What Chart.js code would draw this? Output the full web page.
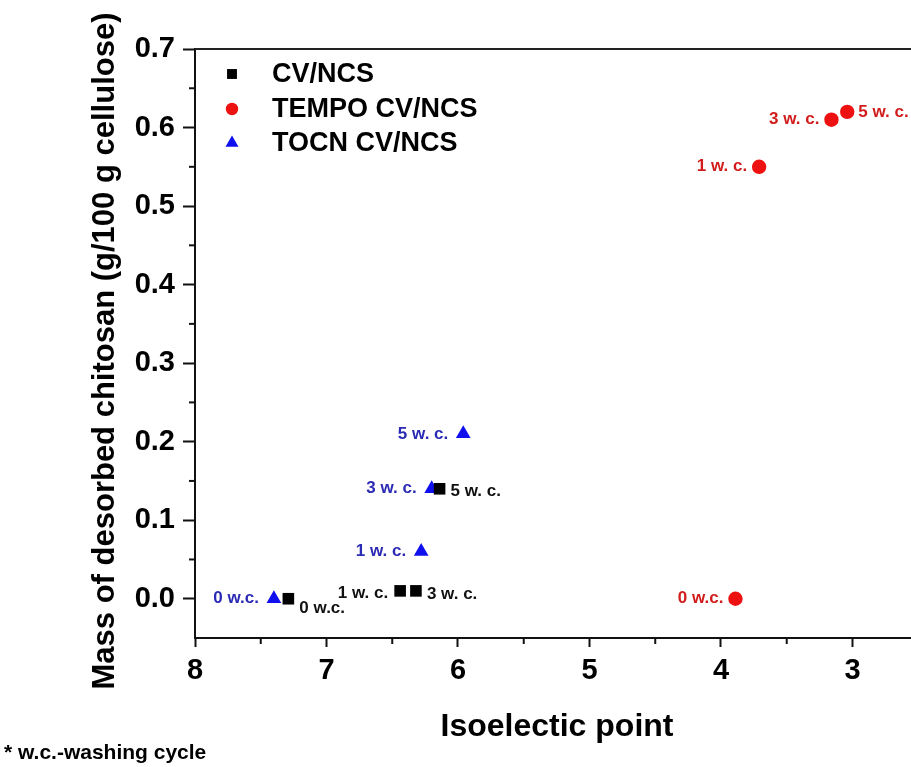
<!DOCTYPE html>
<html><head><meta charset="utf-8">
<script src="https://cdn.jsdelivr.net/npm/chart.js@4.4.1/dist/chart.umd.min.js"></script>
<style>html,body{margin:0;padding:0;background:#fff;} canvas{display:block;}</style>
</head><body>
<canvas id="c" width="911" height="767"></canvas>
<script>
// ---- data ----
const seriesNames = ['CV/NCS', 'TEMPO CV/NCS', 'TOCN CV/NCS'];
const cvX = [7.29, 6.44, 6.32, 6.14];
const cvY = [0.00, 0.01, 0.01, 0.14];
const cvLabels = ['0 w.c.', '1 w. c.', '3 w. c.', '5 w. c.'];
const tempoX = [3.89, 3.71, 3.16, 3.04];
const tempoY = [0.00, 0.55, 0.61, 0.62];
const tempoLabels = ['0 w.c.', '1 w. c.', '3 w. c.', '5 w. c.'];
const tocnX = [7.40, 6.28, 6.20, 5.96];
const tocnY = [0.00, 0.06, 0.14, 0.21];
const tocnLabels = ['0 w.c.', '1 w. c.', '3 w. c.', '5 w. c.'];
const xTickValues = [8, 7, 6, 5, 4, 3];
const yTickValues = [0.0, 0.1, 0.2, 0.3, 0.4, 0.5, 0.6, 0.7];
const xTitle = 'Isoelectic point';
const yTitle = 'Mass of desorbed chitosan (g/100 g cellulose)';
const footnote = '* w.c.-washing cycle';

// ---- label placement (layout, not data) ----
const cvSides = ['below', 'left', 'right', 'right'];
const tempoSides = ['left', 'left', 'left', 'right'];
const tocnSides = ['left', 'left', 'left', 'left'];

const FONT = '"Liberation Sans", Arial, Helvetica, sans-serif';
Chart.defaults.font.family = FONT;

const toPts = (xs, ys) => xs.map((x, i) => ({x: x, y: ys[i]}));

const styles = [
  {pointStyle: 'rect', radius: 8.2, color: '#000000', text: '#111111', lr: 7},
  {pointStyle: 'circle', radius: 7.2, color: '#ee1111', text: '#d21c1c', lr: 6.2},
  {pointStyle: 'triangle', radius: 8.5, color: '#1010ee', text: '#2a2ab4', lr: 7.5}
];
const labelSets = [cvLabels, tempoLabels, tocnLabels];
const sideSets = [cvSides, tempoSides, tocnSides];

const decor = {
  id: 'decor',
  afterDraw(chart) {
    const ctx = chart.ctx;
    const ca = chart.chartArea;
    const xs = chart.scales.x, ys = chart.scales.y;
    ctx.save();
    // top frame line
    ctx.strokeStyle = '#222';
    ctx.lineWidth = 2;
    ctx.beginPath();
    ctx.moveTo(ca.left, ca.top);
    ctx.lineTo(ca.right, ca.top);
    ctx.stroke();
    // minor ticks
    ctx.lineWidth = 2;
    ctx.strokeStyle = '#111';
    for (let k = 0; k < yTickValues.length - 1; k++) {
      const v = (yTickValues[k] + yTickValues[k + 1]) / 2;
      const py = ys.getPixelForValue(v);
      ctx.beginPath(); ctx.moveTo(ca.left - 6, py); ctx.lineTo(ca.left, py); ctx.stroke();
    }
    for (let k = 0; k < xTickValues.length - 1; k++) {
      const v = (xTickValues[k] + xTickValues[k + 1]) / 2;
      const px = xs.getPixelForValue(v);
      ctx.beginPath(); ctx.moveTo(px, ca.bottom); ctx.lineTo(px, ca.bottom + 6); ctx.stroke();
    }
    // point labels
    ctx.font = 'bold 17px ' + FONT;
    ctx.textBaseline = 'middle';
    chart.data.datasets.forEach((ds, di) => {
      const meta = chart.getDatasetMeta(di);
      meta.data.forEach((el, i) => {
        const side = sideSets[di][i];
        const txt = labelSets[di][i];
        ctx.fillStyle = styles[di].text;
        const gap = di === 2 ? 15 : 12;
        if (side === 'left') {
          ctx.textAlign = 'right';
          ctx.fillText(txt, el.x - gap, el.y + (di === 0 ? 2 : 0));
        } else if (side === 'right') {
          ctx.textAlign = 'left';
          ctx.fillText(txt, el.x + gap - 1, el.y + (di === 0 ? 3 : 0));
        } else {
          ctx.textAlign = 'left';
          ctx.fillText(txt, el.x + 11, el.y + 10);
        }
      });
    });
    // legend
    const rows = [74, 109, 143];
    ctx.font = 'bold 27px ' + FONT;
    ctx.textAlign = 'left';
    ctx.textBaseline = 'middle';
    seriesNames.forEach((name, i) => {
      ctx.fillStyle = styles[i].color;
      Chart.helpers.drawPoint(ctx, {pointStyle: styles[i].pointStyle, radius: styles[i].lr, rotation: 0, borderWidth: 0}, 232, rows[i]);
      ctx.fillStyle = '#000';
      ctx.fillText(name, 272, rows[i] + 1);
    });
    // axis titles
    ctx.fillStyle = '#000';
    ctx.font = 'bold 32px ' + FONT;
    ctx.textAlign = 'center';
    ctx.fillText(xTitle, 557, 727);
    ctx.save();
    ctx.translate(105, 351);
    ctx.rotate(-Math.PI / 2);
    ctx.font = 'bold 31px ' + FONT;
    ctx.fillText(yTitle, 0, 0);
    ctx.restore();
    // footnote
    ctx.font = 'bold 21px ' + FONT;
    ctx.textAlign = 'left';
    ctx.fillText(footnote, 4, 753);
    ctx.restore();
  }
};

new Chart(document.getElementById('c'), {
  type: 'scatter',
  data: {
    datasets: [
      {label: seriesNames[0], data: toPts(cvX, cvY)},
      {label: seriesNames[1], data: toPts(tempoX, tempoY)},
      {label: seriesNames[2], data: toPts(tocnX, tocnY)}
    ].map((d, i) => Object.assign(d, {
      showLine: false,
      pointStyle: styles[i].pointStyle,
      pointRadius: styles[i].radius,
      pointHoverRadius: styles[i].radius,
      pointBorderWidth: 0,
      backgroundColor: styles[i].color,
      borderColor: styles[i].color
    }))
  },
  options: {
    responsive: false,
    animation: false,
    events: [],
    layout: {autoPadding: false, padding: {top: 49, left: 0, right: 0, bottom: 0}},
    plugins: {legend: {display: false}, tooltip: {enabled: false}},
    scales: {
      x: {
        type: 'linear',
        reverse: true,
        min: 2.555,
        max: 8,
        afterFit(s) { s.height = 129; s.paddingLeft = 0; s.paddingRight = 0; },
        afterBuildTicks(s) { s.ticks = xTickValues.map(v => ({value: v})); },
        ticks: {
          stepSize: 1,
          includeBounds: false,
          padding: 7,
          color: '#000',
          font: {size: 29, weight: 'bold', family: FONT},
          maxRotation: 0,
          callback: v => String(v)
        },
        grid: {display: true, drawOnChartArea: false, drawTicks: true, tickLength: 9, tickWidth: 2, tickColor: '#111'},
        border: {display: true, width: 2, color: '#111'}
      },
      y: {
        type: 'linear',
        min: -0.05,
        max: 0.7,
        afterFit(s) { s.width = 195; s.paddingTop = 0; s.paddingBottom = 0; },
        afterBuildTicks(s) { s.ticks = yTickValues.map(v => ({value: v})); },
        ticks: {
          stepSize: 0.1,
          includeBounds: false,
          padding: 8,
          color: '#000',
          font: {size: 29, weight: 'bold', family: FONT},
          callback: v => Number(v).toFixed(1)
        },
        grid: {display: true, drawOnChartArea: false, drawTicks: true, tickLength: 12, tickWidth: 2, tickColor: '#111'},
        border: {display: true, width: 2, color: '#111'}
      }
    }
  },
  plugins: [decor]
});
</script>
</body></html>
